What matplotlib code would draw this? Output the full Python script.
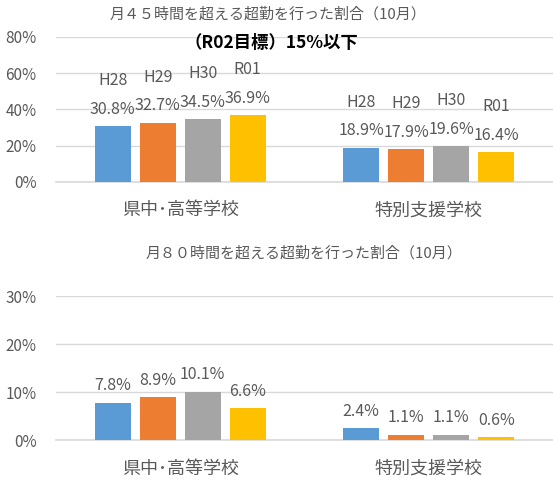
import matplotlib
matplotlib.use("Agg")
import matplotlib.pyplot as plt

plt.rcParams['font.family'] = ['Noto Sans CJK JP', 'DejaVu Sans']

# data
schools = ["県中･高等学校", "特別支援学校"]
years = ["H28", "H29", "H30", "R01"]
over45 = [[30.8, 32.7, 34.5, 36.9],   # 県中･高等学校
          [18.9, 17.9, 19.6, 16.4]]   # 特別支援学校
over80 = [[7.8, 8.9, 10.1, 6.6],
          [2.4, 1.1, 1.1, 0.6]]
colors = ["#5B9BD5", "#ED7D31", "#A5A5A5", "#FFC000"]

title45 = "月４５時間を超える超勤を行った割合（10月）"
title80 = "月８０時間を超える超勤を行った割合（10月）"
target = "（R02目標）15%以下"

TXT = "#595959"
GRID = "#D9D9D9"

fig = plt.figure(figsize=(5.53, 4.8), dpi=100)


def draw(ax, vals, ymax, yticks, with_year):
    slot = 0.181
    width = 0.145
    for j, yr in enumerate(years):
        xs = [i + (j - 1.5) * slot for i in range(len(schools))]
        hs = [vals[i][j] for i in range(len(schools))]
        bars = ax.bar(xs, hs, width=width, color=colors[j], zorder=3)
        for b, h in zip(bars, hs):
            lab = f"{yr}\n{h:.1f}%" if with_year else f"{h:.1f}%"
            ax.annotate(lab, (b.get_x() + b.get_width() / 2, h),
                        xytext=(0, 6), textcoords="offset points",
                        ha="center", va="bottom", fontsize=11.5,
                        color=TXT, linespacing=1.9)
    ax.set_xlim(-0.5, 1.5)
    ax.set_ylim(0, ymax)
    ax.set_yticks(yticks)
    ax.set_yticklabels([f"{t:g}%" for t in yticks])
    ax.set_xticks(range(len(schools)))
    ax.set_xticklabels(schools, fontsize=13, color=TXT)
    ax.tick_params(axis="y", labelsize=11, colors=TXT, length=0, pad=14)
    ax.tick_params(axis="x", length=0, pad=14)
    ax.grid(axis="y", color=GRID, linewidth=1, zorder=0)
    for s in ["top", "right", "left"]:
        ax.spines[s].set_visible(False)
    ax.spines["bottom"].set_color(GRID)
    ax.spines["bottom"].set_linewidth(1.2)


ax1 = fig.add_axes([0.101, 0.621, 0.899, 0.302])
draw(ax1, over45, 80, [0, 20, 40, 60, 80], True)
fig.text(0.485, 0.97, title45, ha="center", va="center", fontsize=10.8, color=TXT)
fig.text(0.49, 0.91, target, ha="center", va="center", fontsize=12.5,
         fontweight="bold", color="black")

ax2 = fig.add_axes([0.101, 0.0833, 0.899, 0.30])
draw(ax2, over80, 30, [0, 10, 20, 30], False)
fig.text(0.55, 0.472, title80, ha="center", va="center", fontsize=10.8, color=TXT)

fig.savefig("out.png", dpi=100)
